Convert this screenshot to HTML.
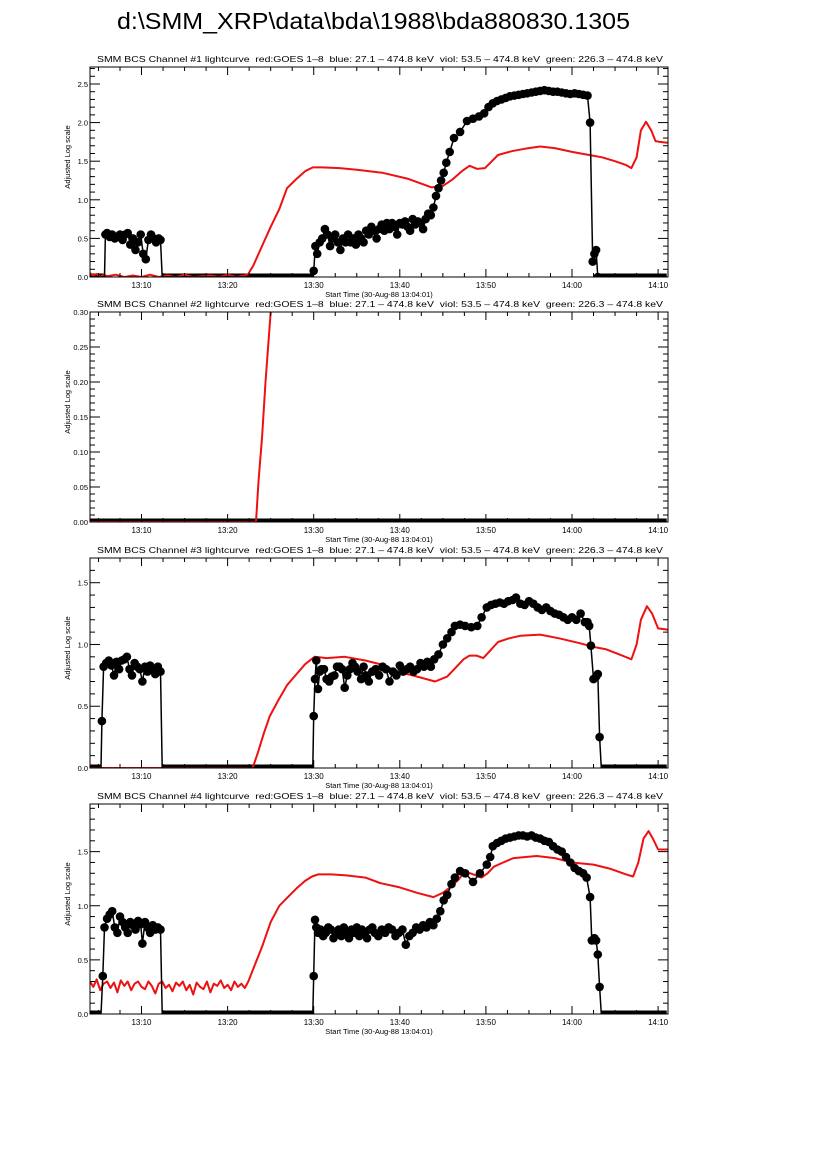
<!DOCTYPE html>
<html><head><meta charset="utf-8">
<style>
html,body{margin:0;padding:0;background:#fff;}
svg{display:block;font-family:"Liberation Sans",sans-serif;}
text{white-space:pre;}
</style></head>
<body>
<svg id="chart" width="826" height="1169" viewBox="0 0 826 1169" xmlns="http://www.w3.org/2000/svg">
<text x="117" y="29" font-size="23" textLength="513" lengthAdjust="spacingAndGlyphs">d:\SMM_XRP\data\bda\1988\bda880830.1305</text>
</svg>
<script>
// time in minutes after 13:00
const xTickLabels = ["13:10","13:20","13:30","13:40","13:50","14:00","14:10"];
const xTickMinutes = [10,20,30,40,50,60,70];

// Panel 1
const p1BlackT = [5.8,6.0,6.3,6.6,6.9,7.2,7.5,7.8,8.1,8.4,8.7,9.0,9.3,9.6,9.9,10.2,10.5,10.8,11.1,11.4,11.7,12.0,12.2,
  30.0,30.2,30.4,30.7,31.0,31.3,31.6,31.9,32.2,32.5,32.8,33.1,33.4,33.7,34.0,34.3,34.6,34.9,35.2,35.5,35.8,36.1,36.4,36.7,37.0,37.3,37.6,37.9,38.2,38.5,38.8,39.1,39.4,39.7,40.0,40.3,40.6,40.9,41.2,41.5,41.8,42.1,42.4,42.7,43.0,43.3,43.6,43.9,44.2,44.5,44.8,45.1,45.4,45.8,46.3,47.0,47.8,48.5,49.2,49.8,50.3,50.8,51.3,51.8,52.3,52.8,53.3,53.8,54.3,54.8,55.3,55.8,56.3,56.8,57.3,57.8,58.3,58.8,59.3,59.8,60.3,60.8,61.3,61.8,62.1,62.4,62.6,62.8,63.0];
const p1BlackV = [0.55,0.57,0.52,0.55,0.5,0.52,0.55,0.48,0.55,0.57,0.42,0.5,0.35,0.45,0.55,0.3,0.23,0.48,0.55,0.5,0.45,0.5,0.48,
  0.08,0.4,0.3,0.45,0.5,0.62,0.55,0.4,0.5,0.55,0.45,0.35,0.5,0.45,0.55,0.45,0.5,0.42,0.55,0.5,0.45,0.6,0.55,0.65,0.6,0.5,0.62,0.68,0.6,0.7,0.62,0.7,0.65,0.55,0.7,0.68,0.72,0.65,0.6,0.75,0.68,0.72,0.7,0.62,0.75,0.82,0.8,0.9,1.05,1.15,1.25,1.35,1.48,1.62,1.8,1.88,2.02,2.05,2.08,2.12,2.2,2.25,2.28,2.3,2.32,2.34,2.35,2.36,2.37,2.38,2.39,2.4,2.41,2.42,2.41,2.4,2.4,2.39,2.38,2.37,2.38,2.37,2.36,2.35,2.0,0.2,0.3,0.35,0.0];
const p1Zero = [[4.0,5.7],[12.4,29.9],[63.1,71.0]];
const p1RedT = [4.0,4.4,4.8,5.2,5.6,6.0,7.0,8.0,9.0,10.0,11.0,12.0,13.0,14.0,15.0,16.0,17.0,18.0,19.0,20.0,21.0,22.0,22.4,23.0,24.0,25.0,26.0,26.9,28.0,29.0,29.9,31.0,33.0,35.0,38.0,41.0,43.7,45.0,46.2,47.2,48.1,49.0,49.9,50.7,51.4,53.0,54.5,56.3,58.0,60.0,62.0,63.5,65.0,66.3,66.9,67.5,68.0,68.6,69.2,69.7,70.2,71.1];
const p1RedV = [0.05,0.02,0.04,0.0,0.03,0.01,0.03,0.0,0.02,0.0,0.03,0.0,0.02,0.0,0.03,0.0,0.01,0.02,0.0,0.03,0.0,0.02,0.04,0.15,0.4,0.65,0.88,1.15,1.27,1.37,1.42,1.42,1.41,1.39,1.35,1.27,1.16,1.18,1.27,1.37,1.44,1.4,1.41,1.5,1.58,1.63,1.66,1.69,1.67,1.62,1.58,1.55,1.5,1.45,1.41,1.55,1.9,2.01,1.9,1.76,1.75,1.74];

// Panel 2
const p2Zero = [[4.0,71.0]];
const p2BlackT = [];
const p2BlackV = [];
const p2RedT = [4.0,10.0,20.0,23.3,23.6,24.0,24.4,25.0,25.6];
const p2RedV = [0.0,0.0,0.0,0.0,0.06,0.12,0.2,0.3,0.45];

// Panel 3
const p3BlackT = [5.4,5.6,5.9,6.2,6.5,6.8,7.1,7.4,7.7,8.0,8.3,8.6,8.9,9.2,9.5,9.8,10.1,10.4,10.7,11.0,11.3,11.6,11.9,12.2,
  30.0,30.15,30.3,30.5,30.7,30.9,31.2,31.5,31.8,32.1,32.4,32.7,33.0,33.3,33.6,33.9,34.2,34.5,34.8,35.1,35.5,35.8,36.1,36.4,36.8,37.2,37.6,38.0,38.4,38.8,39.2,39.6,40.0,40.4,40.8,41.2,41.6,42.0,42.4,42.8,43.2,43.6,44.0,44.5,45.0,45.5,46.0,46.4,47.0,47.6,48.3,49.0,49.5,50.1,50.6,51.1,51.6,52.1,52.6,53.1,53.5,54.0,54.5,55.0,55.5,56.0,56.5,57.0,57.5,58.0,58.5,59.0,59.5,60.0,60.5,61.0,61.5,61.8,62.0,62.2,62.5,62.8,63.0,63.2];
const p3BlackV = [0.38,0.82,0.85,0.87,0.83,0.75,0.86,0.8,0.87,0.88,0.9,0.8,0.75,0.85,0.82,0.8,0.7,0.82,0.78,0.83,0.8,0.76,0.82,0.78,
  0.42,0.72,0.87,0.64,0.78,0.8,0.8,0.72,0.7,0.74,0.75,0.82,0.82,0.8,0.65,0.75,0.8,0.85,0.82,0.78,0.72,0.82,0.75,0.7,0.78,0.8,0.75,0.82,0.8,0.7,0.78,0.75,0.83,0.78,0.8,0.82,0.78,0.8,0.85,0.82,0.86,0.82,0.88,0.92,1.0,1.05,1.1,1.15,1.16,1.15,1.14,1.15,1.22,1.3,1.32,1.33,1.34,1.33,1.35,1.36,1.38,1.33,1.32,1.35,1.33,1.3,1.28,1.3,1.27,1.25,1.24,1.22,1.2,1.22,1.2,1.25,1.18,1.18,1.15,0.99,0.72,0.74,0.76,0.25,0.0];
const p3Zero = [[4.0,5.3],[12.4,29.9],[63.4,71.0]];
const p3RedT = [4.0,22.9,23.5,24.2,24.9,25.9,26.9,28.0,29.0,30.1,31.5,33.6,36.0,38.3,39.6,41.5,44.1,45.5,46.6,47.4,48.1,48.9,49.7,50.5,51.4,52.7,54.0,56.3,58.5,60.9,62.5,64.0,65.5,66.9,67.5,68.0,68.7,69.3,70.0,71.1];
const p3RedV = [0.0,0.0,0.12,0.28,0.42,0.55,0.67,0.76,0.84,0.9,0.89,0.9,0.87,0.83,0.78,0.75,0.7,0.74,0.82,0.88,0.91,0.91,0.89,0.95,1.02,1.05,1.07,1.08,1.05,1.01,0.98,0.96,0.92,0.88,1.0,1.2,1.31,1.25,1.13,1.12];

// Panel 4
const p4BlackT = [5.5,5.7,6.0,6.3,6.6,6.9,7.2,7.5,7.8,8.1,8.4,8.7,9.0,9.3,9.6,9.9,10.1,10.4,10.7,11.0,11.3,11.6,11.9,12.2,
  30.0,30.15,30.3,30.5,30.8,31.1,31.4,31.7,32.0,32.3,32.6,32.9,33.2,33.5,33.8,34.1,34.4,34.7,35.0,35.3,35.6,35.9,36.2,36.5,36.8,37.1,37.5,37.9,38.3,38.7,39.1,39.5,39.9,40.3,40.7,41.1,41.5,41.9,42.3,42.7,43.1,43.5,43.9,44.3,44.7,45.1,45.5,46.0,46.4,47.0,47.6,48.5,49.3,50.1,50.5,50.8,51.3,51.8,52.3,52.8,53.3,53.8,54.3,54.8,55.3,55.8,56.3,56.8,57.3,57.8,58.3,58.8,59.3,59.8,60.3,60.8,61.3,61.7,62.1,62.3,62.6,62.8,63.0,63.2];
const p4BlackV = [0.35,0.8,0.88,0.92,0.95,0.8,0.75,0.9,0.85,0.8,0.75,0.85,0.82,0.78,0.86,0.83,0.65,0.85,0.8,0.75,0.82,0.78,0.8,0.78,
  0.35,0.87,0.8,0.75,0.78,0.72,0.75,0.8,0.78,0.7,0.75,0.78,0.72,0.8,0.75,0.7,0.78,0.75,0.8,0.72,0.78,0.75,0.7,0.78,0.8,0.75,0.72,0.78,0.75,0.8,0.78,0.72,0.75,0.78,0.64,0.72,0.75,0.8,0.78,0.82,0.8,0.85,0.82,0.88,0.95,1.05,1.1,1.2,1.26,1.32,1.3,1.22,1.3,1.38,1.45,1.55,1.58,1.6,1.62,1.63,1.64,1.65,1.65,1.64,1.65,1.63,1.62,1.6,1.59,1.55,1.52,1.5,1.45,1.4,1.35,1.32,1.3,1.26,1.08,0.68,0.7,0.68,0.55,0.25];
const p4Zero = [[4.0,5.3],[12.4,29.9],[63.4,71.0]];
const p4RedT = [4.0,4.4,4.8,5.2,5.6,6.0,6.4,6.8,7.2,7.6,8.0,8.4,8.8,9.2,9.6,10.0,10.4,10.8,11.2,11.6,12.0,12.4,12.8,13.2,13.6,14.0,14.4,14.8,15.2,15.6,16.0,16.4,16.8,17.2,17.6,18.0,18.4,18.8,19.2,19.6,20.0,20.4,20.8,21.2,21.6,22.0,22.4,
  23.0,24.0,25.0,26.0,27.0,28.0,29.0,29.8,30.5,32.0,33.8,36.0,37.7,40.0,42.0,43.9,45.0,46.0,46.8,47.4,48.2,49.5,50.2,50.9,52.0,53.2,55.9,58.0,60.0,62.5,64.5,66.3,67.1,67.7,68.3,68.9,69.4,70.0,71.1];
const p4RedV = [0.3,0.25,0.32,0.22,0.28,0.3,0.24,0.29,0.2,0.31,0.26,0.3,0.22,0.28,0.3,0.25,0.23,0.3,0.26,0.19,0.28,0.3,0.24,0.27,0.21,0.29,0.26,0.3,0.22,0.27,0.18,0.29,0.25,0.23,0.3,0.2,0.28,0.26,0.31,0.24,0.27,0.22,0.3,0.25,0.28,0.24,0.3,
  0.42,0.62,0.85,1.0,1.08,1.16,1.23,1.27,1.29,1.29,1.28,1.26,1.21,1.17,1.12,1.08,1.12,1.18,1.24,1.3,1.3,1.26,1.3,1.36,1.4,1.44,1.46,1.44,1.4,1.38,1.34,1.29,1.27,1.4,1.62,1.69,1.62,1.52,1.52];

const panels = [
  {n:1, top:67, ymax:2.72, yMajor:[0,0.5,1.0,1.5,2.0,2.5], yLab:["0.0","0.5","1.0","1.5","2.0","2.5"], yMinor:0.1, bt:p1BlackT, bv:p1BlackV, zero:p1Zero, rt:p1RedT, rv:p1RedV},
  {n:2, top:312, ymax:0.30, yMajor:[0,0.05,0.10,0.15,0.20,0.25,0.30], yLab:["0.00","0.05","0.10","0.15","0.20","0.25","0.30"], yMinor:0.01, bt:p2BlackT, bv:p2BlackV, zero:p2Zero, rt:p2RedT, rv:p2RedV},
  {n:3, top:558, ymax:1.70, yMajor:[0,0.5,1.0,1.5], yLab:["0.0","0.5","1.0","1.5"], yMinor:0.1, bt:p3BlackT, bv:p3BlackV, zero:p3Zero, rt:p3RedT, rv:p3RedV},
  {n:4, top:804, ymax:1.94, yMajor:[0,0.5,1.0,1.5], yLab:["0.0","0.5","1.0","1.5"], yMinor:0.1, bt:p4BlackT, bv:p4BlackV, zero:p4Zero, rt:p4RedT, rv:p4RedV}
];

const svg = document.getElementById('chart');
const NS = 'http://www.w3.org/2000/svg';
const L = 90, R = 668, H = 210, T0 = 4.017, T1 = 71.15;
function mk(tag, attrs, parent){ const e = document.createElementNS(NS, tag); for (const k in attrs) e.setAttribute(k, attrs[k]); (parent||svg).appendChild(e); return e; }
const xs = m => L + (m - T0) / (T1 - T0) * (R - L);

panels.forEach(p => {
  const B = p.top + H;
  const ys = v => B - v / p.ymax * H;
  const g = mk('g', {});
  
  
  const clipId = 'clip' + p.n;
  const cp = mk('clipPath', {id: clipId}, g);
  mk('rect', {x: L, y: p.top, width: R - L, height: H}, cp);

  const title = mk('text', {x: 97, y: p.top - 5, 'font-size': 8.6, textLength: 566, lengthAdjust: 'spacingAndGlyphs'}, g);
  title.textContent = 'SMM BCS Channel #' + p.n + ' lightcurve  red:GOES 1\u20138  blue: 27.1 \u2013 474.8 keV  viol: 53.5 \u2013 474.8 keV  green: 226.3 \u2013 474.8 keV';
  
  

  const plot = mk('g', {'clip-path': 'url(#' + clipId + ')'}, g);
  
  

  p.zero.forEach(z => {
    const zl = mk('line', {x1: xs(z[0]), x2: xs(z[1]), y1: B - 1, y2: B - 1, stroke: '#000', 'stroke-width': 5}, plot);
    
    
  });

  const rp = mk('polyline', {points: p.rt.map((t, i) => xs(t).toFixed(1) + ',' + ys(p.rv[i]).toFixed(1)).join(' '), fill: 'none', stroke: '#ee1111', 'stroke-width': 2, 'stroke-linejoin': 'round'}, plot);
  
  

  if (p.bt.length) {
    const all = p.bt.map((t, i) => [t, p.bv[i]]);
    p.zero.forEach(z => { all.push([z[0], 0]); all.push([z[1], 0]); });
    all.sort((a, b) => a[0] - b[0]);
    const bl = mk('polyline', {points: all.map(a => xs(a[0]).toFixed(1) + ',' + ys(a[1]).toFixed(1)).join(' '), fill: 'none', stroke: '#000', 'stroke-width': 1.5}, plot);
    
    
    p.bt.forEach((t, i) => {
      const c = mk('circle', {cx: xs(t).toFixed(1), cy: ys(p.bv[i]).toFixed(1), r: 4.3, fill: '#000'}, plot);
      
      
    });
  }

  const box = mk('rect', {x: L, y: p.top, width: R - L, height: H, fill: 'none', stroke: '#000', 'stroke-width': 1}, g);
  
  

  for (let m = 5; m <= 71; m += 2.5) {
    const maj = Math.abs(m % 10) < 0.01;
    const len = maj ? 8 : 4;
    const x = xs(m);
    mk('line', {x1: x, x2: x, y1: B, y2: B - len, stroke: '#000', 'stroke-width': 1}, g);
    mk('line', {x1: x, x2: x, y1: p.top, y2: p.top + len, stroke: '#000', 'stroke-width': 1}, g);
  }
  xTickMinutes.forEach((m, i) => {
    const t = mk('text', {x: xs(m), y: B + 11, 'font-size': 8, 'text-anchor': 'middle'}, g);
    t.textContent = xTickLabels[i];
    
    
  });
  const xt = mk('text', {x: 379, y: B + 20, 'font-size': 7.5, 'text-anchor': 'middle'}, g);
  xt.textContent = 'Start Time (30-Aug-88 13:04:01)';
  
  

  const nMinor = Math.round(p.ymax / p.yMinor);
  for (let k = 0; k <= nMinor; k++) {
    const v = k * p.yMinor;
    const maj = p.yMajor.some(mv => Math.abs(mv - v) < 1e-6);
    const len = maj ? 10 : 5;
    const y = ys(v);
    mk('line', {x1: L, x2: L + len, y1: y, y2: y, stroke: '#000', 'stroke-width': 1}, g);
    mk('line', {x1: R, x2: R - len, y1: y, y2: y, stroke: '#000', 'stroke-width': 1}, g);
  }
  p.yMajor.forEach((v, i) => {
    const t = mk('text', {x: L - 2, y: ys(v) + 3, 'font-size': 7.5, 'text-anchor': 'end'}, g);
    t.textContent = p.yLab[i];
    
    
  });
  const yt = mk('text', {x: 0, y: 0, 'font-size': 7.5, 'text-anchor': 'middle', transform: 'translate(70,' + (p.top + H / 2 - 15) + ') rotate(-90)'}, g);
  yt.textContent = 'Adjusted Log scale';
  
  
});
</script>
</body></html>
